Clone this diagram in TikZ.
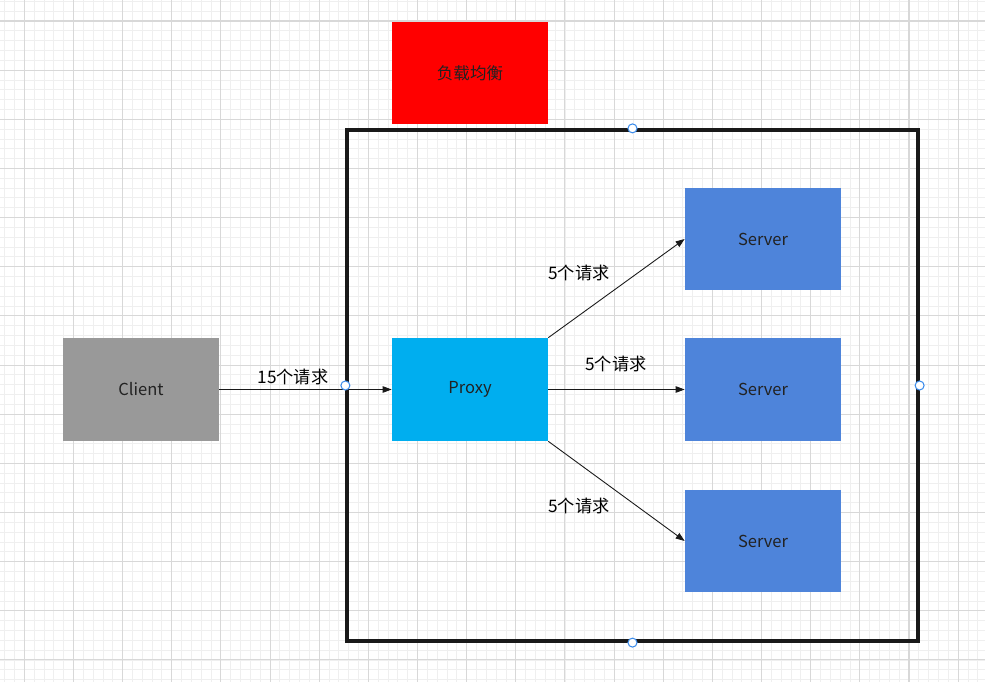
\documentclass[tikz,border=0pt]{standalone}
\usepackage{fontspec}
\setmainfont{Noto Sans CJK SC}
\usepackage{xcolor}
\usepackage{tikz}
\usetikzlibrary{arrows.meta,positioning}
\definecolor{clientGray}{HTML}{999999}
\definecolor{proxyCyan}{HTML}{00AEEF}
\definecolor{serverBlue}{HTML}{4E84DA}
\definecolor{balanceRed}{HTML}{FF0000}
\definecolor{handleBlue}{HTML}{3F8EEC}
\definecolor{textDark}{HTML}{222222}
\definecolor{gridMinorGray}{HTML}{EFEFEF}
\definecolor{gridMajorGray}{HTML}{D8D8D8}

\begin{document}
\begin{tikzpicture}[
    x=0.02cm, y=-0.02cm,
    boxNode/.style={rectangle, draw=none, minimum width=3.12cm, minimum height=2.06cm, inner sep=0pt, font=\fontsize{9.4}{11}\selectfont, text=textDark},
    frameNode/.style={rectangle, draw=black!90, line width=1.9pt, minimum width=11.42cm, minimum height=10.22cm, inner sep=0pt},
    handleNode/.style={circle, draw=handleBlue, fill=white, line width=0.6pt, minimum size=0.18cm, inner sep=0pt},
    reqLabel/.style={font=\fontsize{9.8}{11}\selectfont, text=black, inner sep=1pt},
    arrow/.style={-{Triangle[length=1.8mm, width=1.3mm]}, line width=0.5pt, black!90},
    gridMinor/.style={gridMinorGray, line width=0.5pt},
    gridMajor/.style={gridMajorGray, line width=0.6pt}
]

\useasboundingbox (0,0) rectangle (985,682);
\fill[white] (0,0) rectangle (985,682);

% background grid
\foreach \k in {0,...,99} \draw[gridMinor] ({4.64+9.83*\k},0) -- ({4.64+9.83*\k},682);
\foreach \k in {0,...,69} \draw[gridMinor] (0,{1.34+9.83*\k}) -- (985,{1.34+9.83*\k});
\foreach \m in {0,...,19} \draw[gridMajor] ({24.3+49.15*\m},0) -- ({24.3+49.15*\m},682);
\foreach \m in {0,...,13} \draw[gridMajor] (0,{21+49.15*\m}) -- (985,{21+49.15*\m});

\node[boxNode, fill=balanceRed] (balance) at (470,73) {负载均衡};
\node[frameNode] (frame) at (632.5,385.5) {};

\node[boxNode, fill=clientGray] (client) at (141,389.5) {Client};
\node[boxNode, fill=proxyCyan] (proxy) at (470,389.5) {Proxy};
\node[boxNode, fill=serverBlue] (server1) at (763,239) {Server};
\node[boxNode, fill=serverBlue] (server2) at (763,389.5) {Server};
\node[boxNode, fill=serverBlue] (server3) at (763,541) {Server};

\draw[arrow] (client) -- (proxy);
\draw[arrow] (proxy.north east) -- (server1.west);
\draw[arrow] (proxy) -- (server2);
\draw[arrow] (proxy.south east) -- (server3.west);

\node[reqLabel] (req0) at (293,377) {15个请求};
\node[reqLabel] (req1) at (579,273) {5个请求};
\node[reqLabel] (req2) at (616,364) {5个请求};
\node[reqLabel] (req3) at (579,506) {5个请求};

% selection handles
\node[handleNode] (hTop) at (frame.north) {};
\node[handleNode] (hLeft) at (frame.west) {};
\node[handleNode] (hRight) at (frame.east) {};
\node[handleNode] (hBottom) at (frame.south) {};

\end{tikzpicture}
\end{document}
